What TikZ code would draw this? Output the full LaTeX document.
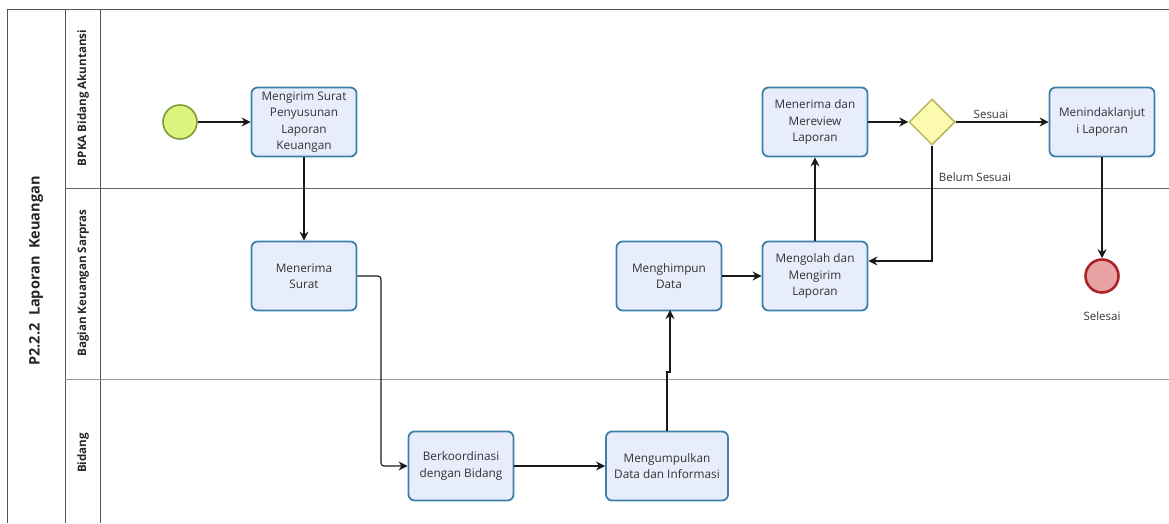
\documentclass[tikz,border=0pt]{standalone}
\usepackage{fontspec}
\setmainfont{Open Sans}
\usetikzlibrary{shapes.geometric,arrows.meta}
\definecolor{taskfill}{HTML}{E8EDFB}
\definecolor{taskline}{HTML}{3F7FA8}
\definecolor{startfill}{HTML}{DDF57F}
\definecolor{startline}{HTML}{7E9B35}
\definecolor{gatefill}{HTML}{FBFAAE}
\definecolor{gateline}{HTML}{B9B65A}
\definecolor{endfill}{HTML}{E8A3A5}
\definecolor{endline}{HTML}{AE2325}
\definecolor{poolline}{HTML}{555555}
\tikzset{
  x=1pt, y=-1pt,
  task/.style={draw=taskline, line width=1.8pt, fill=taskfill, rounded corners=6pt,
    minimum width=105pt, minimum height=69pt, align=center,
    font=\fontsize{11.8}{16.5}\selectfont, text=black!80, inner sep=1pt},
  startev/.style={circle, draw=startline, line width=1.6pt, fill=startfill, minimum size=34pt, inner sep=0pt},
  endev/.style={circle, draw=endline, line width=2.6pt, fill=endfill, minimum size=33pt, inner sep=0pt},
  gate/.style={diamond, draw=gateline, line width=1.5pt, fill=gatefill, minimum width=46pt, minimum height=46pt, inner sep=0pt},
  flow/.style={draw=black!90, line width=1.1pt, -{Stealth[length=9pt,width=9pt]}},
  lbl/.style={font=\fontsize{11.5}{13}\selectfont, text=black!80},
  lane/.style={draw=poolline, line width=0.8pt},
  lanetitle/.style={rotate=90, font=\bfseries\fontsize{11.6}{13}\selectfont, text=black!85},
}
\begin{document}
\begin{tikzpicture}
\useasboundingbox (0,0) rectangle (1169,523);
% pool and lanes
\draw[lane] (7,523) -- (7,9) -- (1169,9);
\draw[lane] (65,9) -- (65,523);
\draw[lane] (100,9) -- (100,523);
\draw[lane, draw=black!60] (65,188) -- (1169,188);
\draw[lane, draw=black!40] (65,379) -- (1169,379);
\node[rotate=90, font=\fontsize{14.5}{16}\selectfont\bfseries, text=black!85] (pooltitle) at (36,271) {P2.2.2\ \ Laporan\ \ Keuangan};
\node[lanetitle] (lane1) at (83,98) {BPKA Bidang Akuntansi};
\node[lanetitle] (lane2) at (83,283) {Bagian Keuangan Sarpras};
\node[lanetitle] (lane3) at (83,453) {Bidang};
% events, tasks and gateway
\node[startev] (start) at (180,122) {};
\node[task] (kirim) at (304,122) {Mengirim Surat\\Penyusunan\\Laporan\\Keuangan};
\node[task] (terima) at (304,276) {Menerima\\Surat};
\node[task] (koord) at (461,466) {Berkoordinasi\\dengan Bidang};
\node[task, minimum width=122pt] (kumpul) at (667,466) {Mengumpulkan\\Data dan Informasi};
\node[task] (himpun) at (669,276) {Menghimpun\\Data};
\node[task] (olah) at (815,276) {Mengolah dan\\Mengirim\\Laporan};
\node[task] (review) at (815,122) {Menerima dan\\Mereview\\Laporan};
\node[gate] (gw) at (932,122) {};
\node[task] (tindak) at (1102,122) {Menindaklanjut\\i Laporan};
\node[endev] (finish) at (1102,276) {};
\node[lbl] (selesai) at (1102,316) {Selesai};
% sequence flows
\draw[flow] (start) -- (kirim);
\draw[flow] (kirim) -- (terima);
\draw[flow, rounded corners=3pt] (terima.east) -- (381,276) -- (381,466) -- (koord.west);
\draw[flow] (koord) -- (kumpul);
\draw[flow] (kumpul.north) -- (667,372) -- (670,372) -- (670,310);
\draw[flow] (himpun) -- (olah);
\draw[flow] (olah) -- (review);
\draw[flow] (review) -- (gw);
\draw[flow] (gw) -- node[lbl, above, pos=0.38] (sesuai) {Sesuai} (tindak);
\draw[flow] (gw.south) -- (932,261) -- (olah.east |- 0,261);
\node[lbl] (belum) at (975,177) {Belum Sesuai};
\draw[flow] (tindak) -- (finish);
\end{tikzpicture}
\end{document}
